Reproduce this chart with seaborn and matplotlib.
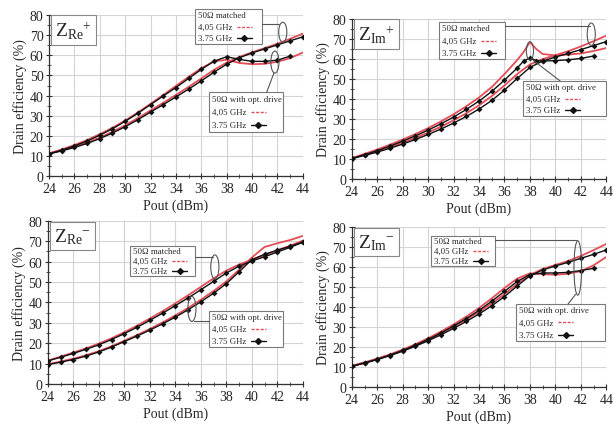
import numpy as np
import pandas as pd
import seaborn as sns
import matplotlib
matplotlib.use("Agg")
import matplotlib.pyplot as plt
from matplotlib.patches import Ellipse, Rectangle
from matplotlib.lines import Line2D

# ---------------- data: drain efficiency (%) vs output power (dBm) ----------------
pout = list(range(24, 45))          # 24 ... 44 dBm
pout_to43 = list(range(24, 44))     # 24 ... 43 dBm

# Z_Re+
re_p_match_375 = [11.0, 12.5, 14.2, 16.2, 18.6, 21.4, 24.5, 28.0, 31.8, 35.5, 39.3,
                  43.2, 47.3, 51.6, 55.6, 58.8, 61.2, 63.2, 65.2, 67.2, 69.2]
re_p_match_405 = [11.2, 12.8, 14.6, 16.6, 19.1, 22.0, 25.2, 28.8, 32.6, 36.4, 40.3,
                  44.3, 48.5, 52.8, 56.4, 59.2, 61.5, 63.6, 65.8, 68.2, 70.8]
re_p_opt_375 = [11.0, 12.9, 15.0, 17.4, 20.3, 23.5, 27.2, 31.2, 35.5, 39.8, 44.0,
                48.5, 53.0, 57.1, 59.3, 58.0, 57.0, 57.0, 57.6, 59.6]
re_p_opt_405 = [11.3, 13.2, 15.4, 17.9, 20.8, 24.0, 27.6, 31.6, 35.9, 40.3, 44.8,
                49.3, 53.6, 57.0, 57.8, 56.2, 55.6, 55.8, 56.8, 58.6, 61.4]

# Z_Im+
pout_peak = [24, 25, 26, 27, 28, 29, 30, 31, 32, 33, 34, 35, 36, 37, 37.5, 38, 38.5,
             39, 40, 41, 42, 43, 44]
pout_peak_to43 = [24, 25, 26, 27, 28, 29, 30, 31, 32, 33, 34, 35, 36, 37, 37.5, 38,
                  38.5, 39, 40, 41, 42, 43]
im_p_match_375 = [10.2, 11.8, 13.5, 15.4, 17.5, 19.8, 22.3, 25.0, 28.0, 31.3, 35.0,
                  39.3, 44.5, 50.3, 55.8, 59.0, 61.0, 62.8, 64.7, 66.7, 68.7]
im_p_match_405 = [10.4, 12.2, 14.0, 16.0, 18.2, 20.6, 23.3, 26.2, 29.4, 32.9, 36.9,
                  41.5, 46.8, 52.5, 57.3, 60.0, 61.9, 63.9, 66.3, 68.9, 71.7]
im_p_opt_375 = [10.3, 12.2, 14.2, 16.5, 19.0, 21.6, 24.5, 27.6, 31.0, 34.8, 39.0,
                43.8, 49.5, 55.5, 59.0, 60.5, 59.2, 59.0, 59.2, 59.6, 60.3, 61.5]
im_p_opt_405 = [10.5, 12.6, 14.8, 17.2, 19.8, 22.5, 25.5, 28.8, 32.4, 36.4, 40.8,
                46.0, 52.5, 59.5, 63.5, 68.5, 65.0, 62.5, 61.8, 62.2, 62.8, 64.0, 65.5]

# Z_Re-
re_m_match_375 = [11.3, 13.1, 15.0, 17.0, 19.2, 21.8, 24.7, 27.8, 31.2, 34.7, 38.4,
                  42.2, 46.2, 50.3, 54.4, 57.8, 60.3, 62.4, 64.7, 67.0, 69.5]
re_m_match_405 = [11.5, 13.4, 15.4, 17.5, 19.8, 22.4, 25.4, 28.6, 32.1, 35.7, 39.5,
                  43.5, 47.6, 51.8, 55.6, 58.6, 60.8, 63.2, 65.6, 67.8, 70.3]
re_m_opt_375 = [9.5, 10.7, 12.0, 13.7, 15.7, 18.1, 20.8, 23.5, 26.4, 29.5, 32.8,
                36.4, 40.3, 44.5, 49.2, 55.0, 61.0, 63.6, 65.6, 67.5, 69.6]
re_m_opt_405 = [9.7, 11.0, 12.4, 14.1, 16.1, 18.5, 21.2, 24.0, 27.0, 30.2, 33.6,
                37.3, 41.3, 45.6, 50.3, 56.0, 62.0, 67.2, 69.0, 70.6, 72.6]

# Z_Im-
im_m_match_375 = [10.3, 11.9, 13.7, 15.7, 17.9, 20.4, 23.1, 26.1, 29.3, 32.8, 36.5,
                  40.6, 45.2, 50.5, 55.6, 58.5, 60.5, 62.3, 64.3, 66.3, 68.5]
im_m_match_405 = [10.5, 12.2, 14.0, 16.1, 18.4, 21.0, 23.8, 26.9, 30.2, 33.8, 37.6,
                  41.8, 46.4, 51.6, 56.0, 59.0, 61.0, 63.0, 65.5, 68.4, 71.5]
im_m_opt_375 = [10.4, 12.1, 13.9, 16.0, 18.3, 20.9, 23.8, 27.0, 30.5, 34.2, 38.3,
                42.9, 47.8, 52.8, 56.2, 57.0, 57.0, 57.3, 58.2, 59.3]
im_m_opt_405 = [10.6, 12.3, 14.2, 16.3, 18.7, 21.4, 24.4, 27.7, 31.3, 35.2, 39.5,
                44.3, 49.5, 54.2, 56.8, 56.4, 56.1, 56.6, 57.9, 60.8, 65.0]

x_ticks = list(range(24, 45, 2))
y_ticks = list(range(0, 81, 10))
freq_labels = ["4,05 GHz", "3.75 GHz"]
group_labels = ["50\u03a9 matched", "50\u03a9 with opt. drive"]

RED = "#e44c56"
BLACK = "#111111"
SERIF = "Liberation Serif"

sns.set_style("whitegrid")
plt.rcParams["font.family"] = [SERIF, "DejaVu Serif"]
plt.rcParams["mathtext.fontset"] = "custom"
plt.rcParams["mathtext.rm"] = SERIF
plt.rcParams["mathtext.it"] = SERIF + ":italic"

fig = plt.figure(figsize=(6.13, 4.35), dpi=100)
fig.patch.set_facecolor("white")


def legend_box(ax, x0, y0, x1, y1, title):
    ax.add_patch(Rectangle((x0, y0), x1 - x0, y1 - y0, transform=ax.transAxes,
                           fc="white", ec="#7a7a7a", lw=0.8, clip_on=False, zorder=6))
    h = (y1 - y0) / 3.0
    rows = [title, freq_labels[0], freq_labels[1]]
    for i, t in enumerate(rows):
        yc = y1 - (i + 0.5) * h
        ax.text(x0 + 0.012, yc, t, transform=ax.transAxes, fontsize=6.3,
                va="center", ha="left", zorder=7, clip_on=False)
    xs0 = x0 + 0.165
    xs1 = xs0 + 0.06
    yr = y1 - 1.5 * h
    ax.add_line(Line2D([xs0, xs1], [yr, yr], transform=ax.transAxes, color=RED,
                       ls=(0, (2.2, 1.1)), lw=1.0, zorder=7, clip_on=False))
    yb = y1 - 2.5 * h
    ax.add_line(Line2D([xs0, xs1], [yb, yb], transform=ax.transAxes, color=BLACK,
                       lw=1.0, zorder=7, clip_on=False))
    ax.add_line(Line2D([(xs0 + xs1) / 2], [yb], transform=ax.transAxes, color=BLACK,
                       marker="D", ms=3, zorder=7, clip_on=False))


def ellipse(ax, xc, yc, w, h):
    ax.add_patch(Ellipse((xc, yc), w, h, transform=ax.transAxes, fill=False,
                         ec="#555555", lw=0.8, zorder=6, clip_on=False))


def leader(ax, xs, ys):
    ax.add_line(Line2D(xs, ys, transform=ax.transAxes, color="#555555", lw=0.8,
                       zorder=6, clip_on=False))


def panel(rect, series, label):
    ax = fig.add_axes(rect)
    for x, y, c, mk in series:
        df = pd.DataFrame({"Pout": x, "eff": y})
        sns.lineplot(data=df, x="Pout", y="eff", ax=ax, color=c,
                     lw=1.3 if c == RED else 1.0,
                     marker=mk, markersize=3.0, markeredgewidth=0,
                     estimator=None, sort=False, zorder=3 if c == BLACK else 2)
    ax.set_xlim(24, 44)
    ax.set_ylim(0, 80)
    ax.set_xticks(x_ticks)
    ax.set_yticks(y_ticks)
    ax.set_xticks(np.arange(25, 44, 2), minor=True)
    ax.set_yticks(np.arange(5, 80, 10), minor=True)
    ax.grid(True, which="major", color="#d4d4d4", lw=0.8)
    ax.set_facecolor("white")
    for s in ("top", "right"):
        ax.spines[s].set_visible(False)
    for s in ("left", "bottom"):
        ax.spines[s].set_color("#333333")
        ax.spines[s].set_linewidth(0.9)
    ax.tick_params(which="major", direction="inout", length=5, width=0.8,
                   labelsize=10, pad=1.5, color="#333333", left=True, bottom=True)
    ax.tick_params(which="minor", direction="inout", length=3, width=0.6,
                   color="#333333", left=True, bottom=True)
    ax.set_xlabel("Pout (dBm)", fontsize=10, labelpad=3)
    ax.set_ylabel("Drain efficiency (%)", fontsize=10, labelpad=2)
    ax.text(0.025, 0.905, label, transform=ax.transAxes, fontsize=14, va="center",
            ha="left", zorder=7,
            bbox=dict(boxstyle="square,pad=0.22", fc="white", ec="#888888", lw=0.8))
    return ax


# Z_Re+
ax1 = panel([0.080, 0.593, 0.414, 0.370], [
    (pout, re_p_match_405, RED, None),
    (pout, re_p_opt_405, RED, None),
    (pout, re_p_match_375, BLACK, "D"),
    (pout_to43, re_p_opt_375, BLACK, "D"),
], r"Z$_{\mathrm{Re}}$$^{+}$")
legend_box(ax1, 0.575, 0.820, 0.839, 1.037, group_labels[0])
legend_box(ax1, 0.630, 0.273, 0.921, 0.522, group_labels[1])
ellipse(ax1, 0.921, 0.894, 0.032, 0.124)
leader(ax1, [0.839, 0.905], [0.944, 0.944])
ellipse(ax1, 0.890, 0.708, 0.032, 0.137)
leader(ax1, [0.858, 0.886], [0.522, 0.640])

# Z_Im+
ax2 = panel([0.574, 0.586, 0.415, 0.368], [
    (pout, im_p_match_405, RED, None),
    (pout_peak, im_p_opt_405, RED, None),
    (pout, im_p_match_375, BLACK, "D"),
    (pout_peak_to43, im_p_opt_375, BLACK, "D"),
], r"Z$_{\mathrm{Im}}$$^{+}$")
legend_box(ax2, 0.343, 0.750, 0.602, 0.980, group_labels[0])
legend_box(ax2, 0.673, 0.394, 1.000, 0.6125, group_labels[1])
ellipse(ax2, 0.941, 0.905, 0.032, 0.14)
leader(ax2, [0.602, 0.935], [0.955, 0.955])
ellipse(ax2, 0.700, 0.800, 0.028, 0.115)
leader(ax2, [0.713, 0.819], [0.742, 0.6125])

# Z_Re-
ax3 = panel([0.078, 0.115, 0.416, 0.375], [
    (pout, re_m_match_405, RED, None),
    (pout, re_m_opt_405, RED, None),
    (pout, re_m_match_375, BLACK, "D"),
    (pout, re_m_opt_375, BLACK, "D"),
], r"Z$_{\mathrm{Re}}$$^{-}$")
legend_box(ax3, 0.322, 0.663, 0.576, 0.847, group_labels[0])
legend_box(ax3, 0.631, 0.227, 0.922, 0.448, group_labels[1])
ellipse(ax3, 0.655, 0.718, 0.032, 0.147)
leader(ax3, [0.576, 0.647], [0.779, 0.779])
ellipse(ax3, 0.565, 0.460, 0.032, 0.153)
leader(ax3, [0.575, 0.631], [0.387, 0.387])

# Z_Im-
ax4 = panel([0.574, 0.108, 0.415, 0.368], [
    (pout, im_m_match_405, RED, None),
    (pout, im_m_opt_405, RED, None),
    (pout, im_m_match_375, BLACK, "D"),
    (pout_to43, im_m_opt_375, BLACK, "D"),
], r"Z$_{\mathrm{Im}}$$^{-}$")
legend_box(ax4, 0.311, 0.756, 0.563, 0.944, group_labels[0])
legend_box(ax4, 0.646, 0.288, 0.996, 0.519, group_labels[1])
ellipse(ax4, 0.888, 0.744, 0.030, 0.34)
leader(ax4, [0.563, 0.880], [0.920, 0.920])
leader(ax4, [0.880, 0.850], [0.580, 0.519])

fig.savefig("out.png", dpi=100, facecolor="white")
